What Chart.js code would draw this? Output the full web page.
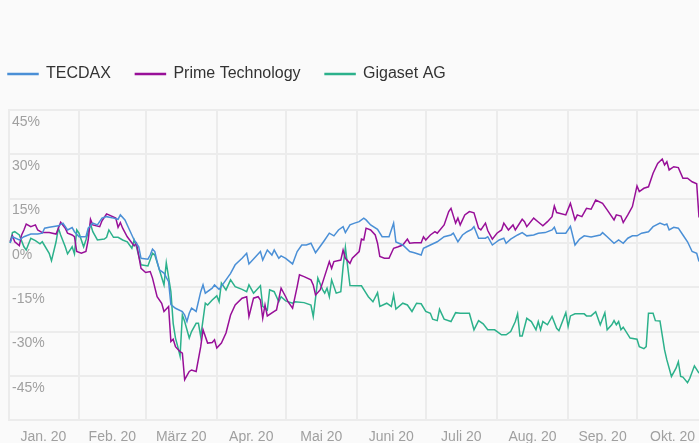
<!DOCTYPE html>
<html>
<head>
<meta charset="utf-8">
<script src="https://cdn.jsdelivr.net/npm/chart.js@4.4.1/dist/chart.umd.min.js"></script>
<style>
  html, body { margin: 0; padding: 0; background: #fafafa; }
  #wrap { width: 699px; height: 443px; }
</style>
</head>
<body>
<div id="wrap"><canvas id="perfChart"></canvas></div>
<script>
// x values are days since 1 Jan 2020, y values are performance in %
const monthStarts = [31, 60, 91, 121, 152, 182, 213, 244, 274];
const monthMids = [15.5, 45.5, 75.5, 106, 136.5, 167, 197.5, 228.5, 259, 289.5];
const monthLabels = ['Jan. 20', 'Feb. 20', 'März 20', 'Apr. 20', 'Mai 20', 'Juni 20', 'Juli 20', 'Aug. 20', 'Sep. 20', 'Okt. 20'];
const yTicks = [-60, -45, -30, -15, 0, 15, 30, 45];

const tecdaxDays = [1, 2, 5, 7, 10, 13, 15, 16, 18, 22, 24, 26, 28, 29, 31, 34, 35, 37, 39, 41, 43, 46, 48, 49, 51, 53, 55, 57, 58, 61, 62, 63, 64, 65, 66, 68, 70, 71, 73, 76, 77, 78, 79, 80, 82, 84, 85, 86, 89, 90, 92, 94, 97, 99, 102, 104, 105, 108, 110, 111, 113, 115, 116, 118, 119, 121, 124, 126, 128, 130, 132, 134, 137, 138, 140, 142, 144, 146, 147, 149, 151, 153, 155, 156, 158, 161, 163, 166, 167, 168, 169, 172, 175, 177, 180, 181, 184, 187, 190, 193, 194, 196, 198, 200, 202, 203, 205, 208, 209, 211, 214, 216, 217, 219, 222, 224, 226, 229, 231, 234, 237, 238, 239, 243, 245, 247, 249, 251, 254, 258, 259, 261, 264, 266, 268, 270, 272, 274, 276, 279, 281, 284, 286, 287, 288, 290, 292, 294, 296, 298, 300, 301];
const tecdaxValues = [0, 2.1, 1.0, 2.1, 3.0, 3.0, 3.3, 5.0, 5.3, 5.8, 6.7, 4.4, 5.2, 3.8, 2.1, 2.1, 5.0, 6.7, 6.1, 8.4, 8.9, 8.4, 8.0, 9.5, 7.8, 4.4, 1.0, -1.3, -5.2, -5.5, -4.1, -2.1, -2.9, -6.3, -9.1, -10.2, -13.1, -20.9, -22.1, -23.2, -24.4, -26.6, -23.8, -22.1, -23.2, -16.5, -14.2, -17.0, -15.3, -14.2, -15.7, -13.6, -10.3, -7.4, -5.2, -3.5, -7.1, -4.6, -2.9, -5.8, -2.4, -4.1, -2.4, -5.2, -4.4, -5.2, -7.1, -2.9, -0.7, -0.7, -0.1, -3.3, -0.1, 1.0, 3.3, 2.4, 4.4, 5.5, 3.5, 6.1, 6.7, 7.2, 8.4, 7.8, 6.1, 4.6, 2.1, 2.1, 4.4, 6.7, 0.3, -0.7, -2.9, -3.3, -4.1, -1.8, -0.7, 0.4, 2.1, 2.7, 3.3, 0.4, 2.7, 3.8, 4.6, 5.5, 1.6, 1.6, 2.1, -0.7, 1.0, 1.6, -0.1, 1.3, 2.7, 3.5, 2.4, 2.7, 3.3, 3.5, 4.4, 5.3, 3.3, 3.3, 5.6, -0.7, 1.3, 2.4, 2.0, 2.7, 3.5, 2.1, -0.1, 1.0, -0.1, 1.6, 2.4, 2.4, 3.3, 3.8, 5.5, 6.7, 6.1, 6.4, 4.4, 5.3, 5.0, 2.7, 0.4, -2.9, -3.5, -6.3];

const primeDays = [1, 2, 3, 5, 6, 7, 8, 10, 12, 13, 15, 18, 21, 22, 23, 25, 26, 28, 29, 30, 32, 34, 35, 36, 37, 40, 41, 43, 44, 47, 48, 49, 50, 52, 55, 56, 58, 60, 62, 63, 65, 67, 68, 70, 71, 72, 73, 75, 76, 77, 79, 80, 82, 84, 85, 87, 89, 90, 91, 93, 95, 97, 99, 102, 104, 105, 107, 109, 110, 111, 112, 113, 116, 117, 119, 121, 122, 124, 126, 127, 129, 132, 133, 134, 136, 137, 140, 141, 142, 145, 146, 147, 149, 150, 153, 154, 155, 156, 158, 160, 161, 162, 164, 166, 168, 170, 172, 174, 175, 177, 180, 181, 182, 184, 186, 187, 190, 192, 193, 195, 196, 197, 199, 201, 203, 205, 206, 208, 209, 211, 213, 215, 216, 218, 220, 221, 224, 225, 226, 229, 231, 233, 235, 237, 238, 239, 243, 245, 247, 248, 250, 252, 254, 256, 259, 261, 264, 265, 267, 268, 270, 272, 274, 275, 277, 279, 281, 283, 285, 286, 287, 288, 290, 292, 294, 296, 298, 300, 301];
const primeValues = [0.5, 2.4, 0.4, -0.9, 2.7, 4.4, 6.4, 5.5, 6.1, 4.4, 3.5, 3.5, 3.0, 5.0, 7.0, 5.0, 3.3, 2.7, 2.1, -2.9, -3.5, -2.9, 1.0, 8.0, 6.1, 5.5, 7.5, 9.8, 9.5, 8.4, 5.3, 6.9, 5.0, 2.1, -1.0, -0.1, -8.6, -10.0, -9.7, -11.9, -18.2, -20.4, -23.2, -21.5, -33.4, -32.6, -35.1, -36.8, -37.3, -46.3, -43.5, -43.0, -43.5, -35.1, -29.4, -33.9, -33.7, -32.8, -35.6, -33.9, -30.5, -24.4, -21.0, -18.7, -18.2, -24.9, -18.7, -18.2, -19.3, -25.5, -21.0, -24.7, -23.2, -22.7, -15.3, -18.2, -19.9, -22.1, -14.8, -10.8, -11.4, -12.5, -14.2, -17.6, -15.9, -13.6, -6.3, -8.6, -6.3, -5.8, -2.4, -5.2, -6.9, -5.2, -2.9, 1.3, 1.0, 5.0, 4.4, 2.7, -0.1, -4.6, -5.2, -5.2, -1.8, -1.3, -0.7, 1.3, -0.1, 0.1, 0.1, 2.1, 1.0, 2.7, 3.8, 3.3, 6.1, 10.6, 11.7, 6.7, 8.4, 6.1, 9.5, 10.6, 10.2, 5.0, 4.4, 6.7, 4.2, 1.3, 3.3, 4.4, 6.7, 4.4, 6.1, 4.4, 8.0, 7.2, 5.5, 8.4, 7.1, 5.8, 7.2, 8.9, 12.5, 10.3, 9.5, 13.4, 7.8, 9.5, 8.9, 11.7, 11.4, 14.5, 13.4, 11.2, 7.8, 9.5, 9.1, 6.9, 9.5, 12.3, 19.3, 17.4, 18.5, 19.0, 23.6, 26.9, 28.4, 26.4, 27.5, 24.7, 25.8, 25.5, 21.9, 21.9, 20.7, 20.0, 8.6];

const gigasetDays = [1, 2, 3, 5, 7, 8, 10, 12, 14, 15, 18, 19, 21, 22, 23, 25, 26, 28, 29, 30, 31, 33, 34, 36, 37, 39, 42, 43, 44, 46, 48, 50, 52, 54, 55, 56, 58, 61, 63, 64, 66, 68, 69, 71, 72, 73, 74, 75, 76, 77, 79, 80, 82, 83, 84, 86, 87, 89, 91, 92, 93, 95, 97, 99, 102, 104, 105, 107, 110, 111, 113, 114, 116, 118, 119, 121, 124, 125, 129, 132, 133, 134, 135, 137, 138, 139, 140, 141, 143, 145, 146, 147, 148, 149, 152, 154, 156, 157, 159, 161, 162, 165, 167, 168, 169, 172, 174, 176, 178, 180, 182, 184, 185, 187, 188, 190, 193, 195, 197, 201, 202, 203, 205, 207, 209, 212, 215, 217, 219, 221, 222, 223, 224, 226, 228, 230, 231, 232, 233, 235, 237, 239, 240, 243, 244, 245, 247, 251, 252, 254, 256, 258, 260, 261, 263, 264, 265, 266, 267, 268, 271, 274, 275, 277, 278, 279, 281, 282, 284, 286, 287, 289, 291, 292, 293, 294, 296, 297, 299, 301];
const gigasetValues = [0, 3.5, 3.8, 2.7, -1.3, -2.4, 1.6, 0.8, -0.3, 0.4, -3.5, -6.0, 0.4, 5.0, 2.7, -1.3, -3.7, -1.3, -3.7, 4.4, 3.3, -1.3, 1.0, 6.4, 3.8, 1.0, 1.3, 1.9, 4.4, 1.9, 1.9, 1.0, 0.4, -1.8, 1.0, -1.3, -7.4, -7.8, -3.5, -4.1, -9.1, -14.2, -6.7, -16.5, -27.2, -32.2, -35.1, -38.3, -24.4, -26.6, -32.2, -30.0, -27.2, -27.2, -31.7, -20.4, -21.0, -19.3, -17.9, -19.9, -13.6, -15.9, -12.5, -14.8, -15.7, -16.5, -14.2, -17.0, -14.5, -21.5, -22.7, -15.9, -16.5, -19.9, -18.2, -19.6, -20.4, -19.9, -20.2, -21.0, -24.9, -18.7, -11.9, -15.7, -17.0, -15.3, -18.2, -12.5, -17.0, -16.5, -8.1, -1.5, -8.0, -14.4, -14.5, -14.5, -17.0, -18.2, -19.9, -16.8, -21.5, -20.4, -21.5, -17.6, -22.4, -20.4, -21.0, -23.2, -20.4, -20.6, -23.2, -23.8, -25.8, -26.3, -22.4, -25.8, -26.6, -23.6, -23.8, -23.8, -26.6, -29.4, -26.3, -27.4, -29.4, -29.4, -31.1, -31.1, -30.0, -26.6, -24.0, -31.5, -31.5, -25.5, -26.6, -29.4, -26.6, -29.4, -26.6, -27.7, -24.9, -28.9, -29.7, -23.6, -28.3, -24.7, -24.0, -24.0, -24.7, -24.7, -23.3, -27.7, -23.6, -29.4, -27.7, -26.3, -27.7, -26.6, -29.4, -28.5, -32.2, -32.6, -35.1, -35.8, -35.1, -23.8, -23.8, -26.3, -26.4, -36.2, -39.6, -45.2, -42.4, -40.2, -45.2, -45.4, -47.3, -45.8, -41.6, -44.1];

const gridColor = '#ececec';
const tickColor = '#a0a0a0';

Chart.defaults.font.family = '"Liberation Sans", Arial, Helvetica, sans-serif';

// pair day and value arrays into {x, y} points
function toPoints(days, values) {
    return days.map((d, i) => ({ x: d, y: values[i] }));
}

// add some room between legend and plot area
const legendSpacing = {
    id: 'legendSpacing',
    beforeInit(chart) {
        const originalFit = chart.legend.fit;
        chart.legend.fit = function fit() {
            originalFit.bind(chart.legend)();
            this.height += 18;
        };
    }
};

function lineDataset(label, color, days, values) {
    return {
        label: label,
        data: toPoints(days, values),
        borderColor: color,
        backgroundColor: color,
        borderWidth: 1.5,
        pointRadius: 0,
        pointHoverRadius: 0,
        tension: 0
    };
}

const ctx = document.getElementById('perfChart').getContext('2d');
new Chart(ctx, {
    type: 'line',
    data: {
        datasets: [
            lineDataset('TECDAX', '#4a8fd6', tecdaxDays, tecdaxValues),
            lineDataset('Prime Technology', '#980f98', primeDays, primeValues),
            lineDataset('Gigaset AG', '#2cb18b', gigasetDays, gigasetValues)
        ]
    },
    options: {
        responsive: true,
        maintainAspectRatio: false,
        animation: false,
        layout: {
            padding: { left: -16.5, top: 41.5, right: 0, bottom: -11 }
        },
        plugins: {
            tooltip: { enabled: false },
            legend: {
                position: 'top',
                align: 'start',
                labels: {
                    boxWidth: 30,
                    boxHeight: 1,
                    padding: 24.5,
                    color: '#333333',
                    font: { size: 16 }
                }
            }
        },
        scales: {
            x: {
                type: 'linear',
                position: 'bottom',
                min: 0.5,
                max: 301,
                afterBuildTicks: (scale) => {
                    scale.ticks = monthStarts.map(v => ({ value: v }));
                },
                ticks: { display: false },
                grid: { color: gridColor, lineWidth: 2, drawTicks: false },
                border: { color: gridColor, width: 2 }
            },
            x2: {
                type: 'linear',
                position: 'bottom',
                min: 0.5,
                max: 301,
                afterBuildTicks: (scale) => {
                    scale.ticks = monthMids.map(v => ({ value: v }));
                },
                // labels sit between gridlines, no extra side padding needed
                afterFit: (scale) => {
                    scale.paddingLeft = 0;
                    scale.paddingRight = 0;
                },
                ticks: {
                    autoSkip: false,
                    maxRotation: 0,
                    padding: 8.5,
                    color: tickColor,
                    font: { size: 14 },
                    callback: (value, index) => monthLabels[index]
                },
                grid: { display: false, drawTicks: false },
                border: { display: false }
            },
            y: {
                min: -60,
                max: 45,
                afterBuildTicks: (scale) => {
                    scale.ticks = yTicks.map(v => ({ value: v }));
                },
                afterFit: (scale) => {
                    scale.width = 25.5;
                },
                ticks: {
                    mirror: true,
                    padding: 3,
                    labelOffset: 12,
                    color: tickColor,
                    font: { size: 14 },
                    callback: (value) => value === -60 ? '' : value + '%'
                },
                grid: { color: gridColor, lineWidth: 2, drawTicks: false },
                border: { color: gridColor, width: 2 }
            }
        }
    },
    plugins: [legendSpacing]
});
</script>
</body>
</html>
